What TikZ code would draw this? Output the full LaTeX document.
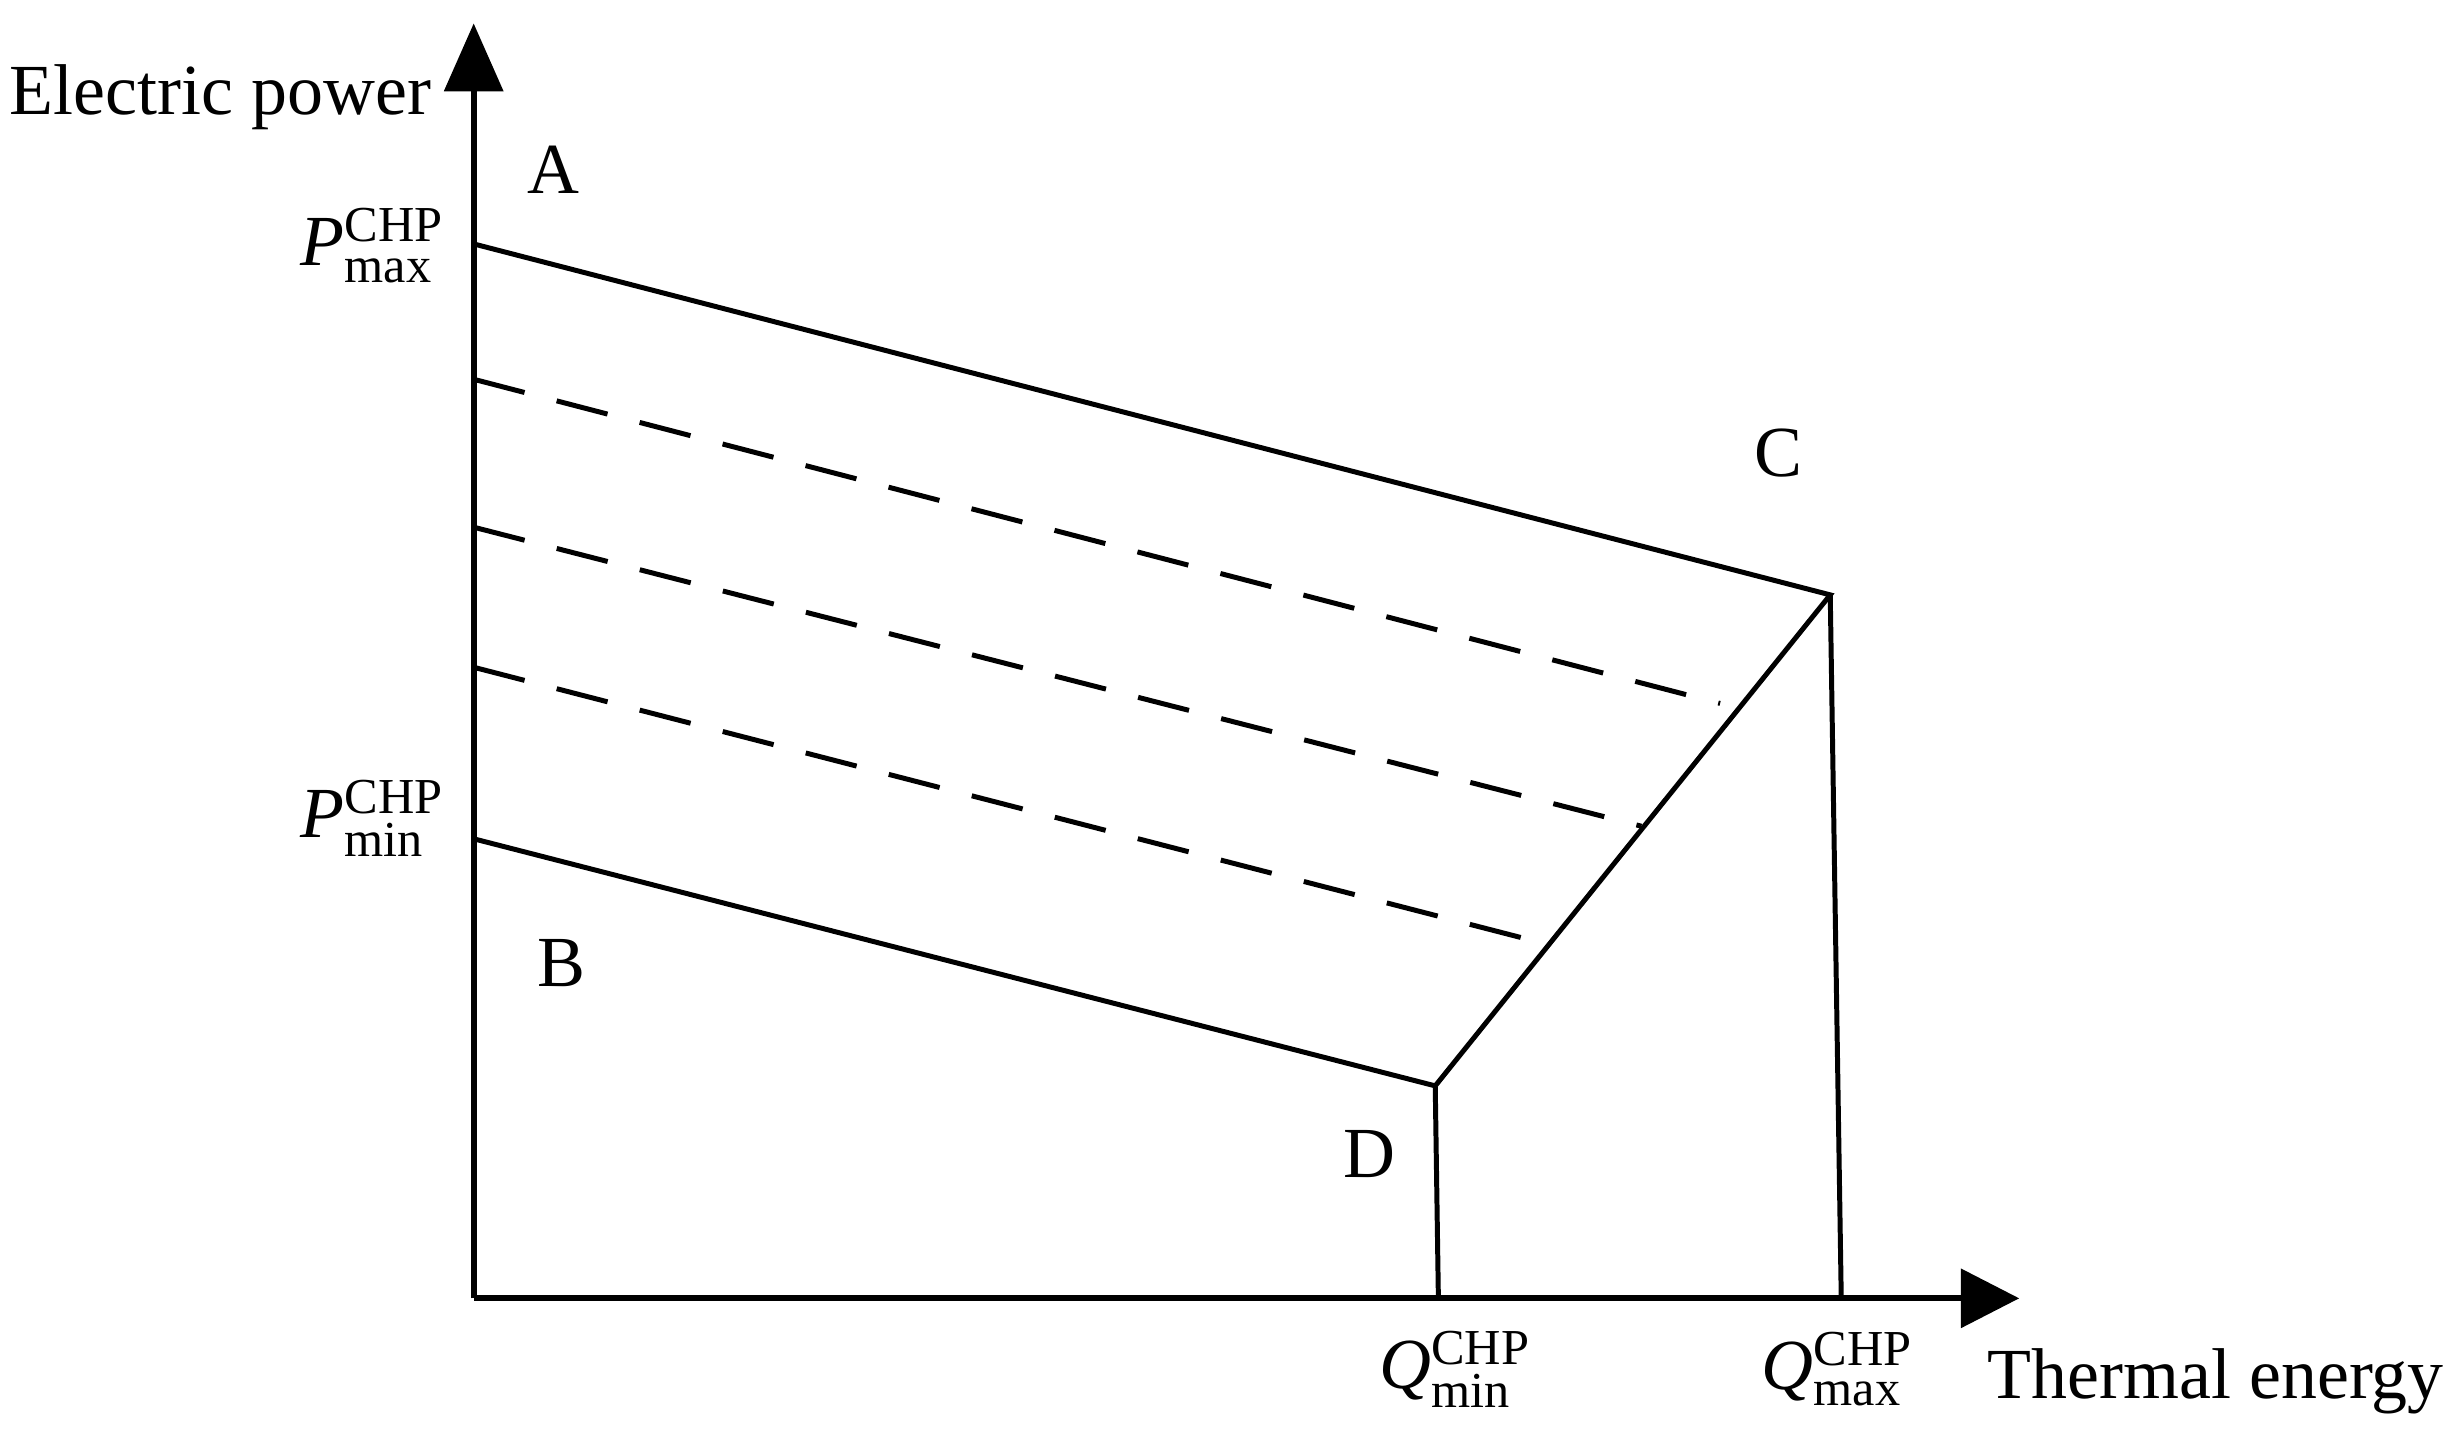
\documentclass[tikz,border=0pt]{standalone}
\usepackage{fontspec}
\setmainfont{Liberation Serif}
\begin{document}
\begin{tikzpicture}[x=0.1mm,y=-0.1mm,line width=0.9pt,
  lbl/.style={font=\fontsize{13}{15}\selectfont,inner sep=0},
  ax/.style={line width=1.1pt}]
\useasboundingbox (0,0) rectangle (1560,920);
\coordinate (O) at (301,825);
\coordinate (Ytop) at (301,15);
\coordinate (Xend) at (1283,825);
\coordinate (A) at (301,155);
\coordinate (B) at (301,533);
\coordinate (C) at (1163,378);
\coordinate (D) at (912,690);
\coordinate (Dq) at (914,825);
\coordinate (Cq) at (1170,825);
\draw[ax] (O) -- (301,50);
\fill (282,58) -- (320,58) -- (Ytop) -- cycle;
\draw[ax] (O) -- (1248,825);
\fill (1246,806) -- (1246,844) -- (Xend) -- cycle;
\draw (A) -- (C) -- (D) -- (B);
\draw (D) -- (Dq);
\draw (C) -- (Cq);
\foreach \ys/\xe/\ye in {241/1093/447, 335/1043/525, 424/983/600}
  \draw[dash pattern=on 9.5pt off 6pt] (301,\ys) -- (\xe,\ye);
\node[lbl] (tA) at (352,108) {A};
\node[lbl] (tB) at (357,612) {B};
\node[lbl] (tC) at (1130,288) {C};
\node[lbl] (tD) at (870,733) {D};
\node[lbl] (ep) at (140,62) {Electric power};
\node[lbl] (te) at (1408,878) {Thermal energy};
\node[lbl] (pmax) at (237,156) {$\mathit{P}_{\mathrm{max}}^{\mathrm{CHP}}$};
\node[lbl] (pmin) at (237,520) {$\mathit{P}_{\mathrm{min}}^{\mathrm{CHP}}$};
\node[lbl] (qmin) at (925,870) {$\mathit{Q}_{\mathrm{min}}^{\mathrm{CHP}}$};
\node[lbl] (qmax) at (1168,870) {$\mathit{Q}_{\mathrm{max}}^{\mathrm{CHP}}$};
\end{tikzpicture}
\end{document}
